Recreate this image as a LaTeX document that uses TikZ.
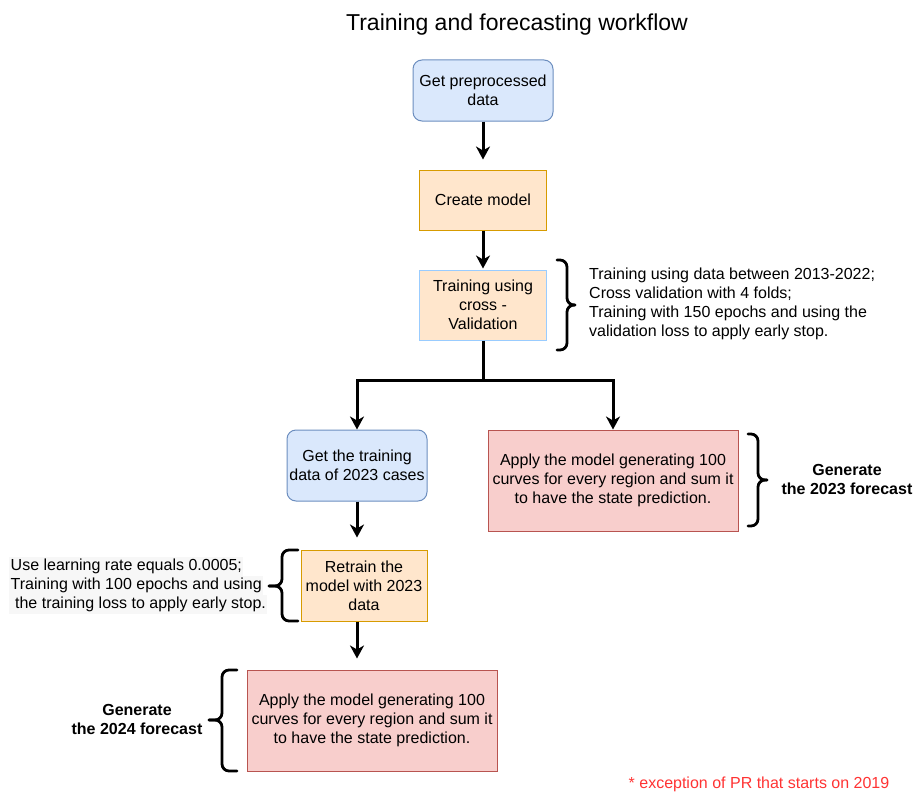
\documentclass[tikz,border=0pt]{standalone}
\usepackage{fontspec}
\setmainfont{Liberation Sans}
\usetikzlibrary{arrows.meta}
\definecolor{bluefill}{HTML}{DAE8FC}
\definecolor{bluedraw}{HTML}{6C8EBF}
\definecolor{orfill}{HTML}{FFE6CC}
\definecolor{ordraw}{HTML}{D79B00}
\definecolor{redfill}{HTML}{F8CECC}
\definecolor{reddraw}{HTML}{B85450}
\definecolor{lightblue}{HTML}{99CCFF}
\definecolor{notered}{HTML}{FF3333}
\definecolor{hl}{HTML}{F7F7F7}
\newcommand\myfs{\fontsize{16pt}{19pt}\selectfont}
\begin{document}
\begin{tikzpicture}[x=1pt,y=-1pt,
  box/.style={draw, line width=1pt, align=center, inner sep=0pt, font=\myfs},
  bluebox/.style={box, fill=bluefill, draw=bluedraw, rounded corners=9pt},
  orbox/.style={box, fill=orfill, draw=ordraw},
  redbox/.style={box, fill=redfill, draw=reddraw},
  conn/.style={line width=3pt, -{Stealth[length=13pt,width=14pt,inset=4pt]}},
  bracestyle/.style={line width=2.8pt, rounded corners=7pt, line cap=round},
  hlline/.style={fill=hl, anchor=west, font=\myfs, inner xsep=1.5pt, inner ysep=0pt, text height=13.5pt, text depth=5.5pt},
  note/.style={font=\myfs, inner sep=0pt}
]
\useasboundingbox (0,0) rectangle (918,800);

\node[font=\fontsize{23pt}{27pt}\selectfont] (title) at (517,25) {Training and forecasting workflow};

\node[bluebox, minimum width=140pt, minimum height=61pt] (n1) at (483,90.5) {Get preprocessed\\data};
\node[orbox, minimum width=127pt, minimum height=60pt] (n2) at (483,200) {Create model};
\node[orbox, draw=lightblue, minimum width=127pt, minimum height=70pt] (n3) at (483,305) {Training using\\cross -\\Validation};
\node[bluebox, minimum width=140pt, minimum height=71pt] (n4) at (357,465.5) {Get the training\\data of 2023 cases};
\node[redbox, minimum width=250pt, minimum height=101pt] (n5) at (613,480.5) {Apply the model generating 100\\curves for every region and sum it\\to have the state prediction.};
\node[orbox, minimum width=126pt, minimum height=71pt] (n6) at (364,585.5) {Retrain the\\model with 2023\\data};
\node[redbox, minimum width=250pt, minimum height=101pt] (n7) at (372,720.5) {Apply the model generating 100\\curves for every region and sum it\\to have the state prediction.};

% connectors
\draw[conn, shorten >=10pt] (n1.south) -- (n2.north);
\draw[conn, shorten >=1pt] (n2.south) -- (n3.north);
\coordinate (split) at (483,380);
\draw[line width=3pt] (n3.south) -- (split);
\draw[conn] (split) -| (n4.north);
\draw[conn] (split) -| (n5.north);
\draw[conn, shorten >=12pt] (n4.south) -- (n4.south |- n6.north);
\draw[conn, shorten >=11pt] (n4.south |- n6.south) -- (n4.south |- n7.north);

% annotations
\node[note, anchor=west, align=left] (t3) at (589,304) {Training using data between 2013-2022;\\Cross validation with 4 folds;\\Training with 150 epochs and using the\\validation loss to apply early stop.};
\draw[bracestyle] (557,260) -- (567,260) -- (567,305) -- (575,305);
\draw[bracestyle] (575,305) -- (567,305) -- (567,350) -- (557,350);

\node[note, align=center, font=\myfs\bfseries] (g5) at (847,479) {Generate\\the 2023 forecast};
\draw[bracestyle] (748,434) -- (758,434) -- (758,480) -- (767,480);
\draw[bracestyle] (767,480) -- (758,480) -- (758,526) -- (748,526);

\node[hlline] (l1) at (9,566) {Use learning rate equals 0.0005;};
\node[hlline] (l2) at (9,585) {Training with 100 epochs and using};
\node[hlline] (l3) at (9,604) {\ the training loss to apply early stop.\hspace{8pt}};
\draw[bracestyle] (298,550) -- (282,550) -- (282,586) -- (269,586);
\draw[bracestyle] (269,586) -- (282,586) -- (282,621) -- (298,621);

\node[note, align=center, font=\myfs\bfseries] (g7) at (137,719) {Generate\\the 2024 forecast};
\draw[bracestyle] (237,670) -- (222,670) -- (222,720) -- (209,720);
\draw[bracestyle] (209,720) -- (222,720) -- (222,771) -- (237,771);

\node[note, text=notered] (fn) at (759,784) {* exception of PR that starts on 2019};
\end{tikzpicture}
\end{document}
